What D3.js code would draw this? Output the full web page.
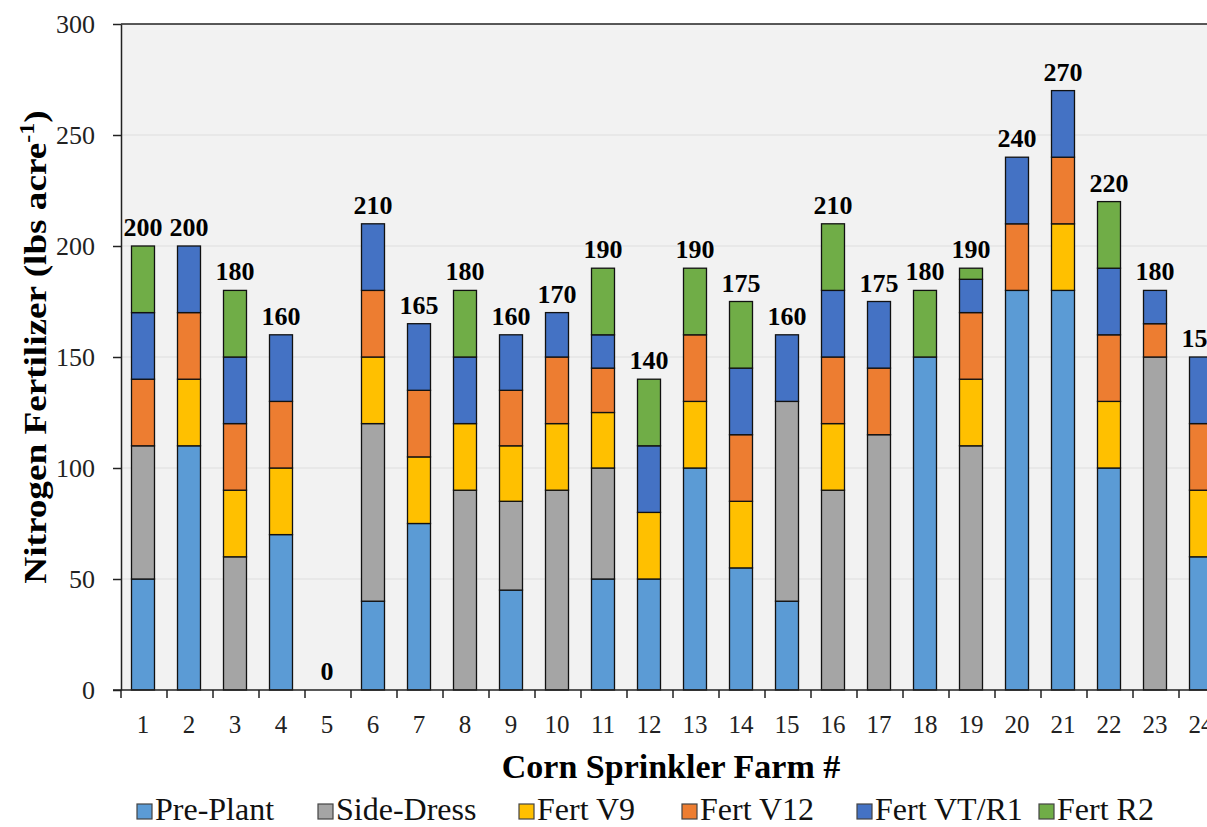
<!DOCTYPE html>
<html>
<head>
<meta charset="utf-8">
<script src="https://cdn.jsdelivr.net/npm/d3@7"></script>
<style>
  body { margin: 0; background: #ffffff; }
  svg text { font-family: "Liberation Serif", "Times New Roman", serif; }
</style>
</head>
<body>
<div id="chart"></div>
<script>
// farm numbers on the x axis
var farms = ["1","2","3","4","5","6","7","8","9","10","11","12","13","14","15","16","17","18","19","20","21","22","23","24"];
var seriesNames = ["Pre-Plant", "Side-Dress", "Fert V9", "Fert V12", "Fert VT/R1", "Fert R2"];
var seriesColors = ["#5b9bd5", "#a5a5a5", "#ffc000", "#ed7d31", "#4472c4", "#70ad47"];

// lbs/acre per stage, one value per farm
var prePlant  = [50,110,0,70,0,40,75,0,45,0,50,50,100,55,40,0,0,150,0,180,180,100,0,60];
var sideDress = [60,0,60,0,0,80,0,90,40,90,50,0,0,0,90,90,115,0,110,0,0,0,150,0];
var fertV9    = [0,30,30,30,0,30,30,30,25,30,25,30,30,30,0,30,0,0,30,0,30,30,0,30];
var fertV12   = [30,30,30,30,0,30,30,0,25,30,20,0,30,30,0,30,30,0,30,30,30,30,15,30];
var fertVT    = [30,30,30,30,0,30,30,30,25,20,15,30,0,30,30,30,30,0,15,30,30,30,15,30];
var fertR2    = [30,0,30,0,0,0,0,30,0,0,30,30,30,30,0,30,0,30,5,0,0,30,0,0];
var yTicks = [0,50,100,150,200,250,300];

var series = [prePlant, sideDress, fertV9, fertV12, fertVT, fertR2];
var rows = farms.map(function (f, i) {
    var r = { farm: f };
    seriesNames.forEach(function (s, k) { r[s] = series[k][i]; });
    return r;
});
var totals = farms.map(function (f, i) { return d3.sum(series, function (s) { return s[i]; }); });

var W = 1207, H = 827;
var margin = { top: 24, left: 121, bottom: 137 };
var height = H - margin.top - margin.bottom;
var step = 46;

var svg = d3.select("#chart").append("svg")
    .attr("width", W)
    .attr("height", H);

var g = svg.append("g").attr("transform", "translate(" + margin.left + "," + margin.top + ")");

var x = d3.scaleBand().domain(farms).range([-1, step * farms.length - 1]).paddingInner(0.5).paddingOuter(0.25);
var y = d3.scaleLinear().domain([0, 300]).range([height, 0]);

// plot background
g.append("rect")
    .attr("x", 0).attr("y", 0)
    .attr("width", W - margin.left).attr("height", height)
    .attr("fill", "#f2f2f2");

// gridlines
g.selectAll(".grid").data(yTicks.slice(1, -1)).enter().append("line")
    .attr("x1", 0).attr("x2", W - margin.left)
    .attr("y1", function (d) { return y(d); }).attr("y2", function (d) { return y(d); })
    .attr("stroke", "#dedede").attr("stroke-width", 1);

// top frame line
g.append("line")
    .attr("x1", 0).attr("x2", W - margin.left)
    .attr("y1", 0).attr("y2", 0)
    .attr("stroke", "#222").attr("stroke-width", 1.5);

var stack = d3.stack().keys(seriesNames)(rows);

g.selectAll(".layer").data(stack).enter().append("g")
    .attr("fill", function (d, i) { return seriesColors[i]; })
    .selectAll("rect")
    .data(function (d) { return d.filter(function (p) { return p[1] - p[0] > 0; }); })
    .enter().append("rect")
    .attr("x", function (d) { return x(d.data.farm); })
    .attr("width", x.bandwidth())
    .attr("y", function (d) { return y(d[1]); })
    .attr("height", function (d) { return y(d[0]) - y(d[1]); })
    .attr("stroke", "#111")
    .attr("stroke-width", 1.3);

// total labels
g.selectAll(".total").data(farms).enter().append("text")
    .attr("x", function (d) { return x(d) + x.bandwidth() / 2; })
    .attr("y", function (d, i) { return y(totals[i]) - 10; })
    .attr("text-anchor", "middle")
    .style("font-size", "26px")
    .style("font-weight", "bold")
    .text(function (d, i) { return totals[i]; });

// Y axis
var yAxis = g.append("g")
    .call(d3.axisLeft(y).tickValues(yTicks).tickSize(8).tickSizeOuter(0));
yAxis.select(".domain").attr("stroke", "#222").attr("stroke-width", 1.5);
yAxis.selectAll("line").attr("stroke", "#222").attr("stroke-width", 1.5);
yAxis.selectAll("text")
    .attr("x", -26)
    .style("font-family", "Liberation Serif, serif")
    .style("font-size", "26px")
    .attr("fill", "#222");

// X axis: ticks at category boundaries
var xAxisG = g.append("g").attr("transform", "translate(0," + height + ")");
xAxisG.append("line")
    .attr("x1", -8).attr("x2", W - margin.left)
    .attr("stroke", "#222").attr("stroke-width", 1.5);
xAxisG.selectAll(".xt").data(d3.range(farms.length + 1)).enter().append("line")
    .attr("x1", function (i) { return i * step; }).attr("x2", function (i) { return i * step; })
    .attr("y1", 0).attr("y2", 8)
    .attr("stroke", "#222").attr("stroke-width", 1.5);
xAxisG.selectAll(".xl").data(farms).enter().append("text")
    .attr("x", function (d) { return x(d) + x.bandwidth() / 2; })
    .attr("y", 43)
    .attr("text-anchor", "middle")
    .style("font-size", "25px")
    .attr("fill", "#222")
    .text(function (d) { return d; });

// Axis titles
svg.append("text")
    .attr("x", 671).attr("y", 778)
    .attr("text-anchor", "middle")
    .style("font-size", "34px")
    .style("font-weight", "bold")
    .text("Corn Sprinkler Farm #");

var yt = svg.append("text")
    .attr("transform", "translate(46,347) rotate(-90) scale(1.2,1)")
    .attr("text-anchor", "middle")
    .style("font-size", "31px")
    .style("font-weight", "bold");
yt.append("tspan").text("Nitrogen Fertilizer (lbs acre");
yt.append("tspan").attr("dy", -12).style("font-size", "20px").text("-1");
yt.append("tspan").attr("dy", 12).text(")");

// Legend
var legendX = [137, 318, 519, 682, 857, 1039];
var legend = svg.selectAll(".legend").data(seriesNames).enter().append("g")
    .attr("transform", function (d, i) { return "translate(" + legendX[i] + ",820)"; });
legend.append("rect")
    .attr("x", 0).attr("y", -16)
    .attr("width", 15).attr("height", 15)
    .attr("fill", function (d, i) { return seriesColors[i]; })
    .attr("stroke", "#444").attr("stroke-width", 1.2);
legend.append("text")
    .attr("x", 18).attr("y", 0)
    .style("font-size", "32px")
    .attr("fill", "#111")
    .text(function (d) { return d; });
</script>
</body>
</html>
